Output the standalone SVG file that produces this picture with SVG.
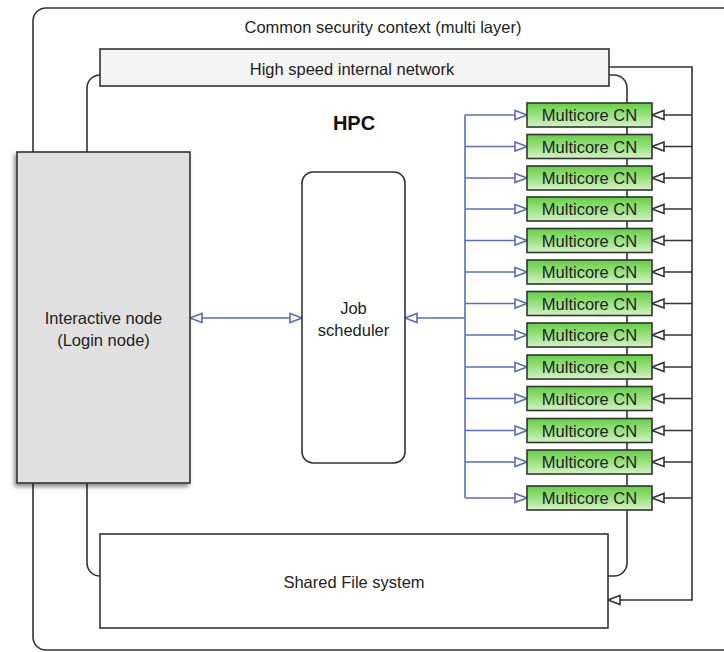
<svg xmlns="http://www.w3.org/2000/svg" width="724" height="652" viewBox="0 0 724 652">
  <style>
    .frame { fill: none; stroke: #333; stroke-width: 1.6; }
    .box { stroke: #333; stroke-width: 1.6; }
    .lbl { font-family: "Liberation Sans", Arial, sans-serif; font-size: 16.5px; fill: #222; text-anchor: middle; }
    .hpc { font-family: "Liberation Sans", Arial, sans-serif; font-size: 20px; font-weight: bold; fill: #111; text-anchor: middle; }
    .blue { fill: none; stroke: #5a6cc0; stroke-width: 1.6; }
    .dark { fill: none; stroke: #333; stroke-width: 1.6; }
    .cn rect { fill: url(#cnGrad); stroke: #333; stroke-width: 1.6; }
  </style>
  <defs>
    <linearGradient id="cnGrad" x1="0" y1="0" x2="0" y2="1">
      <stop offset="0" stop-color="#62cf40"/>
      <stop offset="1" stop-color="#d2f3c4"/>
    </linearGradient>
    <filter id="shadow" x="-10%" y="-10%" width="120%" height="120%">
      <feDropShadow dx="-2" dy="3" stdDeviation="2" flood-color="#000" flood-opacity="0.45"/>
    </filter>
    <marker id="arrowBlue" markerUnits="userSpaceOnUse" markerWidth="14" markerHeight="12" viewBox="0 0 14 12" refX="13" refY="6" orient="auto-start-reverse">
      <path d="M1,1.5 L13,6 L1,10.5 z" fill="#fff" stroke="#5a6cc0" stroke-width="1.6"/>
    </marker>
    <marker id="arrowDark" markerUnits="userSpaceOnUse" markerWidth="14" markerHeight="12" viewBox="0 0 14 12" refX="13" refY="6" orient="auto">
      <path d="M1,1.5 L13,6 L1,10.5 z" fill="#fff" stroke="#333" stroke-width="1.6"/>
    </marker>
  </defs>

  <rect width="724" height="652" fill="#fff"/>

  <!-- containers -->
  <g id="security-context">
    <rect class="frame" x="33" y="8" width="720" height="642" rx="13"/>
    <text class="lbl" x="383" y="33">Common security context (multi layer)</text>
  </g>
  <g id="hpc">
    <rect class="frame" x="87" y="75" width="540" height="501" rx="13"/>
    <text class="hpc" x="354" y="130">HPC</text>
  </g>

  <!-- connectors -->
  <g id="connectors">
    <!-- login node <-> scheduler -->
    <line class="blue" x1="190" y1="318" x2="302" y2="318" marker-start="url(#arrowBlue)" marker-end="url(#arrowBlue)"/>
    <!-- scheduler bus -->
    <line class="blue" x1="465" y1="115" x2="465" y2="498"/>
    <line class="blue" x1="465" y1="318" x2="405" y2="318" marker-end="url(#arrowBlue)"/>
    <line class="blue" x1="465" y1="115" x2="527" y2="115" marker-end="url(#arrowBlue)"/>
    <line class="blue" x1="465" y1="146.5" x2="527" y2="146.5" marker-end="url(#arrowBlue)"/>
    <line class="blue" x1="465" y1="178" x2="527" y2="178" marker-end="url(#arrowBlue)"/>
    <line class="blue" x1="465" y1="209" x2="527" y2="209" marker-end="url(#arrowBlue)"/>
    <line class="blue" x1="465" y1="240.5" x2="527" y2="240.5" marker-end="url(#arrowBlue)"/>
    <line class="blue" x1="465" y1="272" x2="527" y2="272" marker-end="url(#arrowBlue)"/>
    <line class="blue" x1="465" y1="303.5" x2="527" y2="303.5" marker-end="url(#arrowBlue)"/>
    <line class="blue" x1="465" y1="335" x2="527" y2="335" marker-end="url(#arrowBlue)"/>
    <line class="blue" x1="465" y1="367" x2="527" y2="367" marker-end="url(#arrowBlue)"/>
    <line class="blue" x1="465" y1="398.5" x2="527" y2="398.5" marker-end="url(#arrowBlue)"/>
    <line class="blue" x1="465" y1="430.5" x2="527" y2="430.5" marker-end="url(#arrowBlue)"/>
    <line class="blue" x1="465" y1="462" x2="527" y2="462" marker-end="url(#arrowBlue)"/>
    <line class="blue" x1="465" y1="498" x2="527" y2="498" marker-end="url(#arrowBlue)"/>
    <!-- network bus -->
    <polyline class="dark" points="609,67 692,67 692,600 608,600" marker-end="url(#arrowDark)"/>
    <line class="dark" x1="692" y1="115" x2="652" y2="115" marker-end="url(#arrowDark)"/>
    <line class="dark" x1="692" y1="146.5" x2="652" y2="146.5" marker-end="url(#arrowDark)"/>
    <line class="dark" x1="692" y1="178" x2="652" y2="178" marker-end="url(#arrowDark)"/>
    <line class="dark" x1="692" y1="209" x2="652" y2="209" marker-end="url(#arrowDark)"/>
    <line class="dark" x1="692" y1="240.5" x2="652" y2="240.5" marker-end="url(#arrowDark)"/>
    <line class="dark" x1="692" y1="272" x2="652" y2="272" marker-end="url(#arrowDark)"/>
    <line class="dark" x1="692" y1="303.5" x2="652" y2="303.5" marker-end="url(#arrowDark)"/>
    <line class="dark" x1="692" y1="335" x2="652" y2="335" marker-end="url(#arrowDark)"/>
    <line class="dark" x1="692" y1="367" x2="652" y2="367" marker-end="url(#arrowDark)"/>
    <line class="dark" x1="692" y1="398.5" x2="652" y2="398.5" marker-end="url(#arrowDark)"/>
    <line class="dark" x1="692" y1="430.5" x2="652" y2="430.5" marker-end="url(#arrowDark)"/>
    <line class="dark" x1="692" y1="462" x2="652" y2="462" marker-end="url(#arrowDark)"/>
    <line class="dark" x1="692" y1="498" x2="652" y2="498" marker-end="url(#arrowDark)"/>
  </g>

  <!-- nodes -->
  <g id="network">
    <rect class="box" x="100" y="49" width="509" height="37" fill="#f4f4f4"/>
    <text class="lbl" x="352" y="75">High speed internal network</text>
  </g>
  <g id="login-node">
    <rect class="box" x="17" y="152" width="173" height="331" fill="#e0e0e0" filter="url(#shadow)"/>
    <text class="lbl" x="103.5" y="324">Interactive node</text>
    <text class="lbl" x="103.5" y="346">(Login node)</text>
  </g>
  <g id="job-scheduler">
    <rect class="box" x="302" y="172" width="103" height="291" rx="11" fill="#fff"/>
    <text class="lbl" x="353.5" y="314">Job</text>
    <text class="lbl" x="353.5" y="336">scheduler</text>
  </g>
  <g id="shared-fs">
    <rect class="box" x="100" y="534" width="508" height="94" fill="#fff"/>
    <text class="lbl" x="354" y="588">Shared File system</text>
  </g>

  <g id="cn-01" class="cn"><rect x="527" y="103" width="125" height="24"/><text class="lbl" x="589.5" y="121">Multicore CN</text></g>
  <g id="cn-02" class="cn"><rect x="527" y="134.5" width="125" height="24"/><text class="lbl" x="589.5" y="152.5">Multicore CN</text></g>
  <g id="cn-03" class="cn"><rect x="527" y="166" width="125" height="24"/><text class="lbl" x="589.5" y="184">Multicore CN</text></g>
  <g id="cn-04" class="cn"><rect x="527" y="197" width="125" height="24"/><text class="lbl" x="589.5" y="215">Multicore CN</text></g>
  <g id="cn-05" class="cn"><rect x="527" y="228.5" width="125" height="24"/><text class="lbl" x="589.5" y="246.5">Multicore CN</text></g>
  <g id="cn-06" class="cn"><rect x="527" y="260" width="125" height="24"/><text class="lbl" x="589.5" y="278">Multicore CN</text></g>
  <g id="cn-07" class="cn"><rect x="527" y="291.5" width="125" height="24"/><text class="lbl" x="589.5" y="309.5">Multicore CN</text></g>
  <g id="cn-08" class="cn"><rect x="527" y="323" width="125" height="24"/><text class="lbl" x="589.5" y="341">Multicore CN</text></g>
  <g id="cn-09" class="cn"><rect x="527" y="355" width="125" height="24"/><text class="lbl" x="589.5" y="373">Multicore CN</text></g>
  <g id="cn-10" class="cn"><rect x="527" y="386.5" width="125" height="24"/><text class="lbl" x="589.5" y="404.5">Multicore CN</text></g>
  <g id="cn-11" class="cn"><rect x="527" y="418.5" width="125" height="24"/><text class="lbl" x="589.5" y="436.5">Multicore CN</text></g>
  <g id="cn-12" class="cn"><rect x="527" y="450" width="125" height="24"/><text class="lbl" x="589.5" y="468">Multicore CN</text></g>
  <g id="cn-13" class="cn"><rect x="527" y="486" width="125" height="24"/><text class="lbl" x="589.5" y="504">Multicore CN</text></g>
</svg>
